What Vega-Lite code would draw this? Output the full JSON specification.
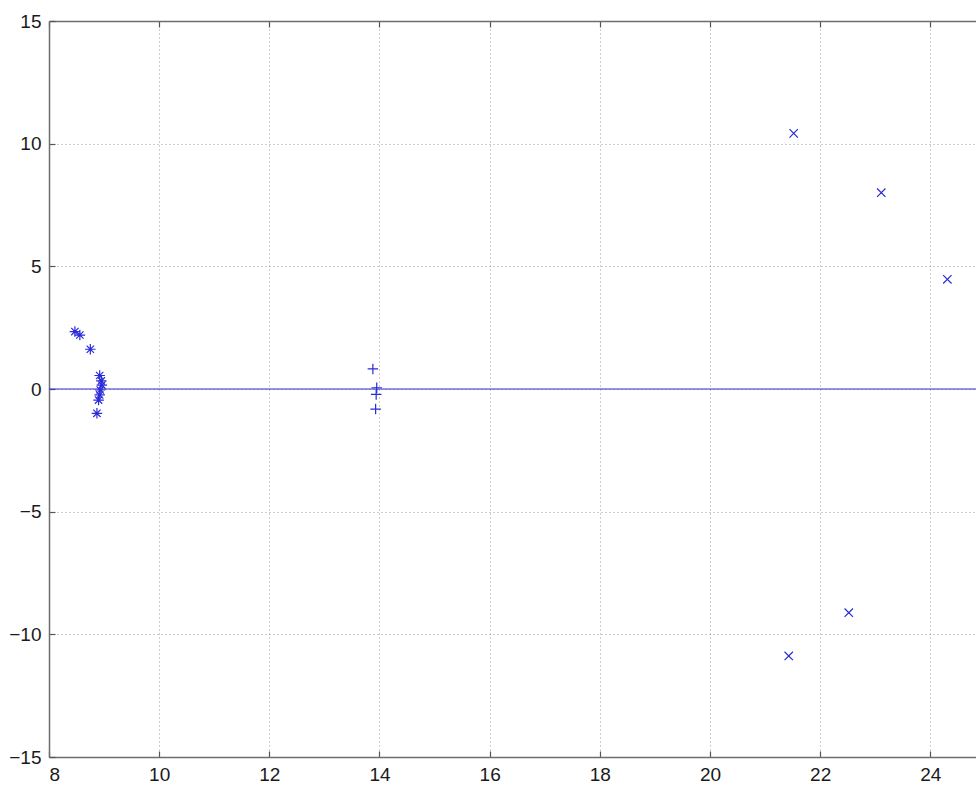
{
  "$schema": "https://vega.github.io/schema/vega-lite/v6.json",
  "width": 927,
  "height": 736,
  "autosize": "none",
  "padding": {"left": 49, "top": 21, "right": 0, "bottom": 28},
  "background": "white",
  "config": {
    "view": {"stroke": null},
    "axis": {
      "labelFont": "Liberation Sans",
      "labelFontSize": 19,
      "labelColor": "#1a1a1a",
      "domainColor": "#6e6e6e",
      "domainWidth": 1.5,
      "tickColor": "#555555",
      "tickSize": -6,
      "tickWidth": 1.2,
      "gridColor": "#9a9a9a",
      "gridDash": [1, 3],
      "gridWidth": 1,
      "gridOpacity": 1,
      "title": null
    }
  },
  "datasets": {
    "pts": [
      {"x": 8.47, "y": 2.34, "marker": "star"},
      {"x": 8.56, "y": 2.2, "marker": "star"},
      {"x": 8.75, "y": 1.62, "marker": "star"},
      {"x": 8.92, "y": 0.55, "marker": "star"},
      {"x": 8.95, "y": 0.33, "marker": "star"},
      {"x": 8.96, "y": 0.16, "marker": "star"},
      {"x": 8.93, "y": -0.04, "marker": "star"},
      {"x": 8.92, "y": -0.24, "marker": "star"},
      {"x": 8.9, "y": -0.45, "marker": "star"},
      {"x": 8.87, "y": -0.99, "marker": "star"},
      {"x": 13.88, "y": 0.82, "marker": "plus"},
      {"x": 13.95, "y": 0.05, "marker": "plus"},
      {"x": 13.94, "y": -0.22, "marker": "plus"},
      {"x": 13.93, "y": -0.82, "marker": "plus"},
      {"x": 21.52, "y": 10.42, "marker": "x"},
      {"x": 23.11, "y": 8.0, "marker": "x"},
      {"x": 24.31, "y": 4.47, "marker": "x"},
      {"x": 22.52, "y": -9.12, "marker": "x"},
      {"x": 21.43, "y": -10.88, "marker": "x"}
    ]
  },
  "layer": [
    {
      "data": {"name": "pts"},
      "mark": {"type": "point", "filled": false, "strokeWidth": 1.2, "color": "#2a2ad8", "opacity": 1, "size": 110},
      "encoding": {
        "x": {
          "field": "x", "type": "quantitative",
          "scale": {"domain": [8, 24.83], "nice": false, "zero": false},
          "axis": {"orient": "bottom", "values": [8, 10, 12, 14, 16, 18, 20, 22, 24], "labelPadding": 14, "grid": true}
        },
        "y": {
          "field": "y", "type": "quantitative",
          "scale": {"domain": [-15, 15], "nice": false, "zero": false},
          "axis": {"orient": "left", "values": [-15, -10, -5, 0, 5, 10, 15], "labelPadding": 14, "grid": true}
        },
        "shape": {
          "field": "marker", "type": "nominal",
          "scale": {
            "domain": ["star", "plus", "x"],
            "range": [
              "M-1,0L1,0M0,-1L0,1M-0.7,-0.7L0.7,0.7M-0.7,0.7L0.7,-0.7",
              "M-1,0L1,0M0,-1L0,1",
              "M-0.8,-0.8L0.8,0.8M-0.8,0.8L0.8,-0.8"
            ]
          },
          "legend": null
        }
      }
    },
    {
      "data": {"values": [{"y0": 0}]},
      "mark": {"type": "rule", "color": "#2a2ad8", "strokeWidth": 1},
      "encoding": {
        "y": {"field": "y0", "type": "quantitative"},
        "x": {"datum": 8, "type": "quantitative", "axis": {"orient": "top", "labels": false, "values": [8, 10, 12, 14, 16, 18, 20, 22, 24], "grid": false}},
        "x2": {"datum": 24.83}
      }
    }
  ],
  "resolve": {"axis": {"x": "independent"}}
}
